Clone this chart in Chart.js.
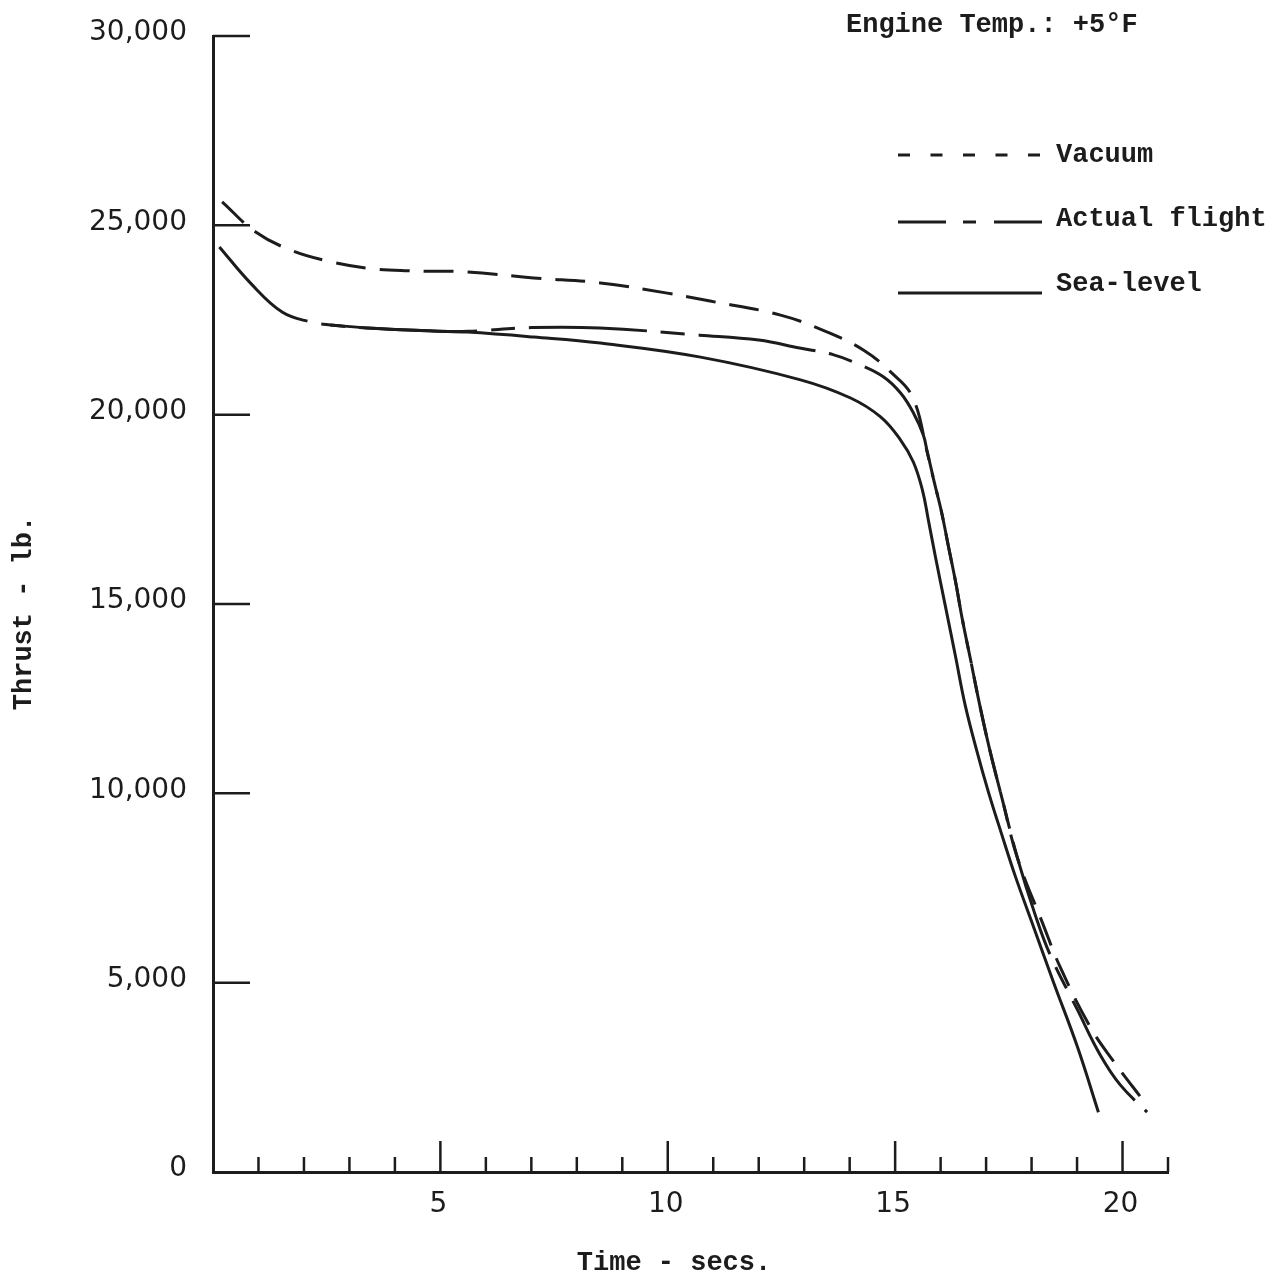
<!DOCTYPE html>
<html>
<head>
<meta charset="utf-8">
<title>Thrust vs Time</title>
<script src="https://cdn.jsdelivr.net/npm/chart.js@4.4.1/dist/chart.umd.min.js"></script>
<style>
    html, body { margin: 0; padding: 0; background: #fff; }
    #wrap { width: 1282px; height: 1277px; position: relative; }
</style>
</head>
<body>
<div id="wrap"><canvas id="thrustChart"></canvas></div>
<script>
// Data (time in secs, thrust in lb.)
const vacuumTime = [0.2, 0.93, 1.7, 2.51, 3.39, 4.28, 5.59, 7.05, 8.52, 9.99, 10.93, 12.48, 13.51, 14.3, 14.9, 15.38,
    15.71, 15.86, 16.02, 16.17, 16.33, 16.48, 16.66, 16.85, 17.07, 17.36, 17.69, 18.24, 18.63, 19.29, 19.78, 20.5];
const vacuumThrust = [25620, 24830, 24350, 24060, 23870, 23800, 23770, 23610, 23480, 23210, 23000, 22630, 22180, 21710, 21130, 20470,
    18990, 18220, 17430, 16530, 15580, 14580, 13520, 12390, 11200, 9820, 8290, 6580, 5410, 3830, 2960, 1820];

const flightTime = [0.14, 0.82, 1.52, 2.14, 2.58, 3.39, 4.84, 5.6, 7.0, 8.5, 10.7, 12.0, 12.9, 13.65, 14.2, 14.74, 15.12, 15.4, 15.62,
    15.71, 15.86, 16.02, 16.17, 16.33, 16.48, 16.66, 16.85, 17.07, 17.36, 17.69, 18.08, 18.41, 19.01, 19.51, 19.95, 20.54];
const flightThrust = [24430, 23480, 22710, 22450, 22370, 22290, 22210, 22200, 22300, 22290, 22100, 21970, 21760, 21580, 21330, 21000, 20570, 20050, 19460,
    18990, 18220, 17430, 16530, 15580, 14580, 13520, 12390, 11200, 9820, 8290, 6790, 5730, 4280, 3090, 2300, 1580];

const seaLevelTime = [2.58, 3.39, 4.84, 5.59, 7.05, 8.52, 10.72, 12.92, 14.02, 14.68, 15.12, 15.4, 15.6, 15.73, 15.89,
    16.1, 16.33, 16.54, 16.79, 17.05, 17.34, 17.64, 18.06, 18.48, 19.01, 19.47];
const seaLevelThrust = [22370, 22290, 22210, 22180, 22050, 21890, 21520, 20920, 20440, 19940, 19330, 18750, 18010, 17220, 16220,
    14970, 13600, 12330, 11150, 10040, 8930, 7820, 6420, 5020, 3300, 1580];

const timeTicks = [5, 10, 15, 20];
const thrustTicks = [0, 5000, 10000, 15000, 20000, 25000, 30000];

const INK = '#1c1c1c';
const TYPE_FONT = '"Liberation Mono", "DejaVu Sans Mono", monospace';

function toPoints(xs, ys) {
    return xs.map((x, i) => ({ x: x, y: ys[i] }));
}

// Axis ticks, legend and labels drawn on the canvas after the curves
const paperPlugin = {
    id: 'paper',
    afterDraw(chart) {
        const ctx = chart.ctx;
        const xs = chart.scales.x;
        const ys = chart.scales.y;
        const area = chart.chartArea;
        ctx.save();
        ctx.strokeStyle = INK;
        ctx.fillStyle = INK;
        ctx.lineWidth = 2.5;
        ctx.setLineDash([]);

        // y ticks point inward
        thrustTicks.forEach(v => {
            if (v === 0) return;
            const py = ys.getPixelForValue(v);
            ctx.beginPath();
            ctx.moveTo(area.left, py);
            ctx.lineTo(area.left + 37, py);
            ctx.stroke();
        });

        // x ticks every second, long ones every five
        for (let t = 1; t <= 21; t++) {
            const px = xs.getPixelForValue(t);
            const len = (t % 5 === 0) ? 31 : 15;
            ctx.beginPath();
            ctx.moveTo(px, area.bottom);
            ctx.lineTo(px, area.bottom - len);
            ctx.stroke();
        }

        ctx.font = 'bold 27px ' + TYPE_FONT;
        ctx.textBaseline = 'middle';
        ctx.textAlign = 'left';
        ctx.fillText('Engine Temp.: +5°F', 846, 25);

        // legend
        const legendRows = [
            { idx: 0, y: 155, ty: 155, dash: [12, 20.5] },
            { idx: 1, y: 222, ty: 219, dash: [48, 17, 13, 18, 49] },
            { idx: 2, y: 293, ty: 284, dash: [] }
        ];
        legendRows.forEach(row => {
            ctx.setLineDash(row.dash);
            ctx.lineWidth = 3;
            ctx.beginPath();
            ctx.moveTo(898, row.y);
            ctx.lineTo(1042, row.y);
            ctx.stroke();
            ctx.setLineDash([]);
            ctx.fillText(chart.data.datasets[row.idx].label, 1056, row.ty);
        });

        // axis titles
        ctx.textAlign = 'center';
        ctx.fillText('Time - secs.', 674, 1263);

        ctx.translate(24, 613);
        ctx.rotate(-Math.PI / 2);
        ctx.fillText('Thrust - lb.', 0, 0);
        ctx.restore();
    }
};

const lineBase = {
    borderColor: INK,
    borderWidth: 3,
    pointRadius: 0,
    fill: false,
    tension: 0.4
};

const chart = new Chart(document.getElementById('thrustChart').getContext('2d'), {
    type: 'line',
    data: {
        datasets: [
            Object.assign({}, lineBase, {
                label: 'Vacuum',
                data: toPoints(vacuumTime, vacuumThrust),
                borderDash: [30, 14]
            }),
            Object.assign({}, lineBase, {
                label: 'Actual flight',
                data: toPoints(flightTime, flightThrust),
                borderDash: [118, 14, 24, 14]
            }),
            Object.assign({}, lineBase, {
                label: 'Sea-level',
                data: toPoints(seaLevelTime, seaLevelThrust)
            })
        ]
    },
    options: {
        responsive: true,
        maintainAspectRatio: false,
        animation: false,
        layout: { padding: { top: 36, right: 114, left: 0, bottom: 0 } },
        plugins: {
            legend: { display: false },
            tooltip: { enabled: false }
        },
        scales: {
            x: {
                type: 'linear',
                min: 0,
                max: 21,
                afterFit: s => { s.height = 105; s.paddingLeft = 0; s.paddingRight = 0; },
                afterBuildTicks: s => { s.ticks = timeTicks.map(v => ({ value: v })); },
                grid: { display: false, drawTicks: false },
                border: { display: true, color: INK, width: 3 },
                ticks: {
                    color: INK,
                    padding: 16,
                    labelOffset: -2,
                    font: { family: '"DejaVu Sans", sans-serif', size: 28 }
                }
            },
            y: {
                min: 0,
                max: 30000,
                afterFit: s => { s.width = 213; s.paddingTop = 0; s.paddingBottom = 0; },
                afterBuildTicks: s => { s.ticks = thrustTicks.map(v => ({ value: v })); },
                grid: { display: false, drawTicks: false },
                border: { display: true, color: INK, width: 3 },
                ticks: {
                    color: INK,
                    padding: 26,
                    labelOffset: -3,
                    font: { family: '"DejaVu Sans", sans-serif', size: 28 },
                    callback: v => v.toLocaleString('en-US')
                }
            }
        }
    },
    plugins: [paperPlugin]
});
</script>
</body>
</html>
